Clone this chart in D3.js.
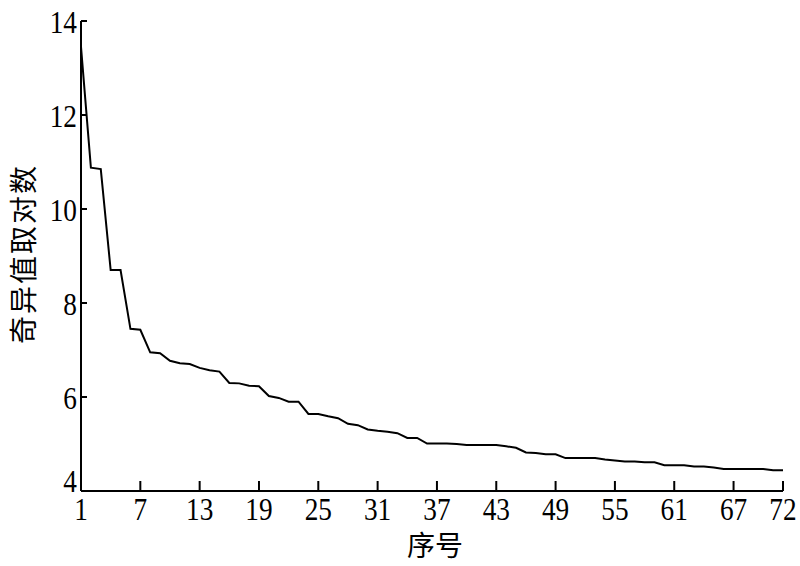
<!DOCTYPE html>
<html><head><meta charset="utf-8">
<script src="https://cdn.jsdelivr.net/npm/d3@7"></script>
<style>body{margin:0;background:#fff}svg{display:block}</style>
</head><body>
<script>
const xTicks = [1,7,13,19,25,31,37,43,49,55,61,67,72];
const yTicks = [4,6,8,10,12,14];
const values = [13.45,10.88,10.85,8.70,8.70,7.45,7.43,6.95,6.93,6.77,
  6.72,6.70,6.62,6.57,6.54,6.30,6.29,6.24,6.23,6.02,
  5.98,5.90,5.90,5.64,5.64,5.59,5.55,5.43,5.40,5.31,
  5.28,5.26,5.23,5.13,5.13,5.01,5.01,5.01,5.00,4.98,
  4.98,4.98,4.98,4.95,4.92,4.82,4.81,4.78,4.78,4.70,
  4.70,4.70,4.70,4.67,4.65,4.63,4.63,4.61,4.61,4.55,
  4.55,4.55,4.52,4.52,4.50,4.47,4.47,4.47,4.47,4.47,
  4.44,4.44];
const xLabel = "序号";
const yLabel = "奇异值取对数";

const W = 800, H = 566;
const svg = d3.select("body").append("svg").attr("width", W).attr("height", H);
const x = d3.scaleLinear().domain([1,72]).range([81,783]);
const y = d3.scaleLinear().domain([4,14]).range([491,21]);
const serif = "'Liberation Serif','Times New Roman',serif";

// axes lines
svg.append("line").attr("x1",81).attr("x2",81).attr("y1",y(14)).attr("y2",y(4)).attr("stroke","#000").attr("stroke-width",2);
svg.append("line").attr("x1",x(1)).attr("x2",x(72)).attr("y1",491).attr("y2",491).attr("stroke","#000").attr("stroke-width",2);

// x ticks
const gx = svg.append("g");
xTicks.forEach(t => {
  gx.append("line").attr("x1",x(t)).attr("x2",x(t)).attr("y1",491).attr("y2",481).attr("stroke","#000").attr("stroke-width",2);
  gx.append("text").attr("transform",`translate(${x(t)},520) scale(0.88,1)`).attr("text-anchor","middle")
    .attr("font-family",serif).attr("font-size",31).text(t);
});
// y ticks
const gy = svg.append("g");
yTicks.forEach(t => {
  gy.append("line").attr("x1",81).attr("x2",87).attr("y1",y(t)).attr("y2",y(t)).attr("stroke","#000").attr("stroke-width",2);
  const by = t===4 ? 492 : y(t) + 11.5;
  gy.append("text").attr("transform",`translate(77,${by}) scale(0.88,1)`).attr("text-anchor","end")
    .attr("font-family",serif).attr("font-size",31).text(t);
});

// line
const line = d3.line().x((d,i)=>x(i+1)).y(d=>y(d));
svg.append("path").datum(values).attr("d",line).attr("fill","none")
  .attr("stroke","#000").attr("stroke-width",2).attr("stroke-linejoin","miter");

// labels
svg.append("text").attr("x",435).attr("y",556).attr("text-anchor","middle")
  .attr("font-family","'Noto Sans CJK SC',sans-serif").attr("font-size",28).text(xLabel);
svg.append("text").attr("transform","translate(34,254) rotate(-90)").attr("text-anchor","middle")
  .attr("font-family","'Noto Sans CJK SC',sans-serif").attr("font-size",28).attr("letter-spacing",2).text(yLabel);
</script>
</body></html>
